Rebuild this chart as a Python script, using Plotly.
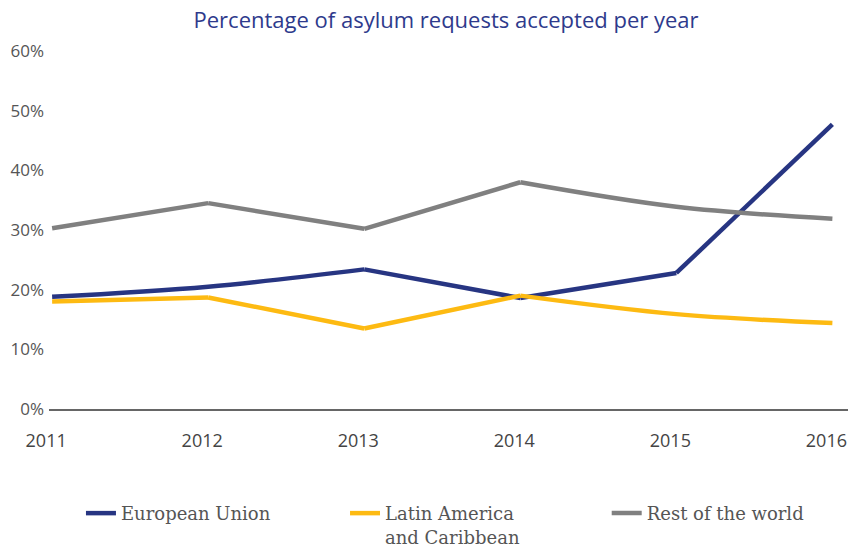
import plotly.graph_objects as go

years = [2011, 2012, 2013, 2014, 2015, 2016]
year_labels = ["2011", "2012", "2013", "2014", "2015", "2016"]
eu = [18.8, 20.5, 23.4, 18.6, 22.8, 47.7]
lac = [18.0, 18.7, 13.5, 19.0, 15.9, 14.4]
rest = [30.3, 34.5, 30.2, 38.0, 33.9, 31.9]
y_ticks = [0, 10, 20, 30, 40, 50, 60]
y_tick_labels = ["0%", "10%", "20%", "30%", "40%", "50%", "60%"]

series = [
    ("European Union", eu, "#273582", "legend", 0.04),
    ("Latin America<br>and Caribbean", lac, "#FDBA12", "legend2", 0.3705),
    ("Rest of the world", rest, "#808080", "legend3", 0.698),
]


def segments(y):
    """Split a series at sharp corners (direction change or strong slope change)."""
    cuts = [0]
    for i in range(1, len(y) - 1):
        s1 = y[i] - y[i - 1]
        s2 = y[i + 1] - y[i]
        sharp = s1 * s2 < 0
        if not sharp and min(abs(s1), abs(s2)) > 0:
            ratio = max(abs(s1), abs(s2)) / min(abs(s1), abs(s2))
            sharp = ratio > 3
        if sharp:
            cuts.append(i)
    cuts.append(len(y) - 1)
    return [(cuts[k], cuts[k + 1]) for k in range(len(cuts) - 1)]


fig = go.Figure()
legend_layout = {}
for name, vals, color, leg, lx in series:
    for k, (a, b) in enumerate(segments(vals)):
        fig.add_trace(go.Scatter(
            x=years[a:b + 1], y=vals[a:b + 1], mode="lines", name=name,
            legendgroup=name, showlegend=(k == 0), legend=leg,
            line=dict(color=color, width=4.5, shape="spline", smoothing=1),
            hoverinfo="skip",
        ))
    legend_layout[leg] = dict(
        orientation="h", x=lx, xanchor="left", y=-0.24, yanchor="top",
        valign="top", bgcolor="rgba(0,0,0,0)", tracegroupgap=0,
        font=dict(family="DejaVu Serif", size=18, color="#555555"),
        itemclick=False, itemdoubleclick=False,
    )

fig.update_layout(
    width=848, height=548,
    margin=dict(l=49, r=0, t=51, b=139, autoexpand=False),
    paper_bgcolor="white", plot_bgcolor="white",
    title=dict(text="Percentage of asylum requests accepted per year",
               x=0.526, xanchor="center", y=0.963, yanchor="middle",
               font=dict(family="Open Sans", size=22, color="#2E3A8C")),
    xaxis=dict(range=[2010.98, 2016.1], tickvals=years, ticktext=year_labels,
               showgrid=False, zeroline=False, showline=True, linecolor="#666666",
               linewidth=2, ticks="", ticklabelstandoff=14, ticklabelshift=-6,
               ticklabeloverflow="allow",
               tickfont=dict(family="Open Sans", size=18, color="#444444")),
    yaxis=dict(range=[0, 60], tickvals=y_ticks, ticktext=y_tick_labels,
               showgrid=False, zeroline=False, showline=False, ticks="",
               ticklabelstandoff=4,
               tickfont=dict(family="Open Sans", size=17, color="#555555")),
    showlegend=True,
    **legend_layout,
)

fig.write_html(
    "out.html",
    config={"displayModeBar": False, "staticPlot": True},
    post_script="document.body.style.margin='0';document.body.style.overflow='hidden';",
)
